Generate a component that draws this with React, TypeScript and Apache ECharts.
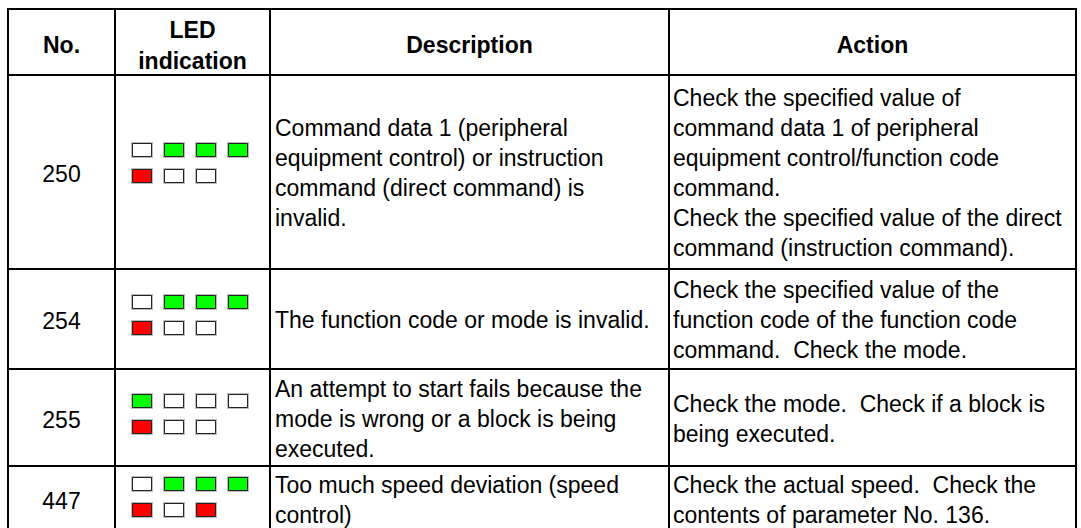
import React, { useEffect, useRef } from "react";
import * as echarts from "echarts";

// ---------- data ----------
const headers = ["No.", "LED\nindication", "Description", "Action"];
const codes = ["250", "254", "255", "447"];
// LED states: G = green on, R = red on, O = off
const ledUpper = ["OGGG", "OGGG", "GOOO", "OGGG"];
const ledLower = ["ROO", "ROO", "ROO", "ROR"];
const descriptions = [
  "Command data 1 (peripheral\nequipment control) or instruction\ncommand (direct command) is\ninvalid.",
  "The function code or mode is invalid.",
  "An attempt to start fails because the\nmode is wrong or a block is being\nexecuted.",
  "Too much speed deviation (speed\ncontrol)",
];
const actions = [
  "Check the specified value of\ncommand data 1 of peripheral\nequipment control/function code\ncommand.\nCheck the specified value of the direct\ncommand (instruction command).",
  "Check the specified value of the\nfunction code of the function code\ncommand.  Check the mode.",
  "Check the mode.  Check if a block is\nbeing executed.",
  "Check the actual speed.  Check the\ncontents of parameter No. 136.",
];

// ---------- layout ----------
const COL_X = [8, 115, 270, 669, 1076];
const ROW_Y = [9, 75, 269, 369, 466, 532];
const LED_SHIFT = [-9, -4, -4, -2];
const LED_X0 = 131;
const LED_PITCH = 32;
const FONT = "'Liberation Sans', Arial, Helvetica, sans-serif";
const FS = 23;
const LH = 30;
const LED_COLORS: Record<string, string> = { G: "#00ff00", R: "#ff0000", O: "#ffffff" };

function txt(text: string, x: number, y: number, align: string, bold = false, lh = LH) {
  return {
    type: "text",
    x,
    y,
    silent: true,
    style: {
      text,
      fill: "#000",
      fontSize: FS,
      fontFamily: FONT,
      fontWeight: bold ? "bold" : "normal",
      align,
      textAlign: align,
      verticalAlign: "middle",
      textVerticalAlign: "middle",
      lineHeight: lh,
    },
  };
}

function led(x: number, y: number, state: string) {
  return [
    { type: "rect", silent: true, shape: { x, y, width: 22, height: 16 }, style: { fill: "#bcbcbc" } },
    {
      type: "rect",
      silent: true,
      shape: { x: x + 1.5, y: y + 1.5, width: 19, height: 13 },
      style: { fill: LED_COLORS[state], stroke: "#222", lineWidth: 1 },
    },
  ];
}

function buildGraphics() {
  const els: any[] = [];
  // header
  const hc = (ROW_Y[0] + ROW_Y[1]) / 2 + 3;
  headers.forEach((h, i) => {
    const cx = (COL_X[i] + COL_X[i + 1]) / 2;
    els.push(txt(h, cx, hc, "center", true, 31));
  });
  // rows
  codes.forEach((code, r) => {
    const top = ROW_Y[r + 1];
    const bot = ROW_Y[r + 2];
    const cy = (top + bot) / 2;
    els.push(txt(code, (COL_X[0] + COL_X[1]) / 2, cy + 2, "center"));
    const pc = cy + LED_SHIFT[r];
    ledUpper[r].split("").forEach((s, k) => {
      els.push(...led(LED_X0 + k * LED_PITCH, Math.round(pc - 21), s));
    });
    ledLower[r].split("").forEach((s, k) => {
      els.push(...led(LED_X0 + k * LED_PITCH, Math.round(pc + 5), s));
    });
    els.push(txt(descriptions[r], COL_X[2] + 5, cy + 1, "left"));
    els.push(txt(actions[r], COL_X[3] + 4, cy + 1, "left"));
  });
  // grid lines
  const lineStyle = { stroke: "#000", lineWidth: 2 };
  ROW_Y.forEach((y) => {
    els.push({ type: "line", silent: true, shape: { x1: COL_X[0] - 1, y1: y, x2: COL_X[4] + 1, y2: y }, style: lineStyle });
  });
  COL_X.forEach((x) => {
    els.push({ type: "line", silent: true, shape: { x1: x, y1: ROW_Y[0] - 1, x2: x, y2: ROW_Y[5] + 1 }, style: lineStyle });
  });
  return els;
}

export default function App() {
  const ref = useRef<HTMLDivElement>(null);
  useEffect(() => {
    if (!ref.current) return;
    const chart = echarts.init(ref.current, null, { renderer: "svg" });
    chart.setOption({
      animation: false,
      backgroundColor: "#ffffff",
      graphic: { elements: buildGraphics() },
    });
    return () => chart.dispose();
  }, []);
  return (
    <div
      ref={ref}
      style={{ position: "fixed", left: 0, top: 0, width: 1081, height: 528, background: "#fff" }}
    />
  );
}
